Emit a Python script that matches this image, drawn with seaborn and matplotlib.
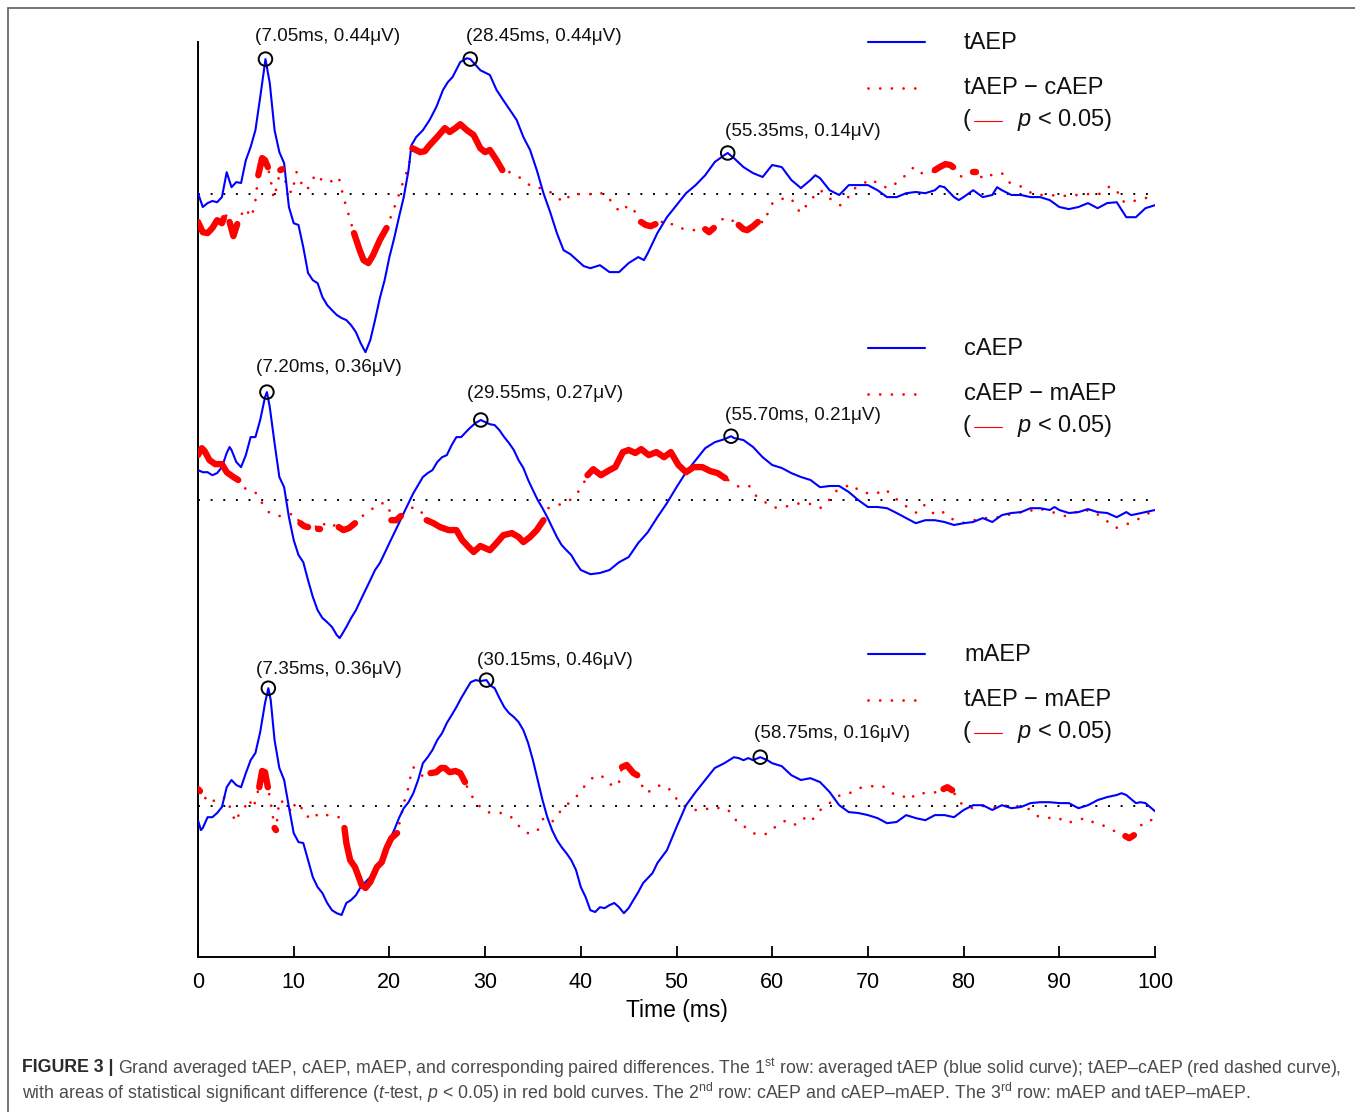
import numpy as np
import pandas as pd
import matplotlib
matplotlib.use("Agg")
import matplotlib.pyplot as plt
import seaborn as sns
from matplotlib.lines import Line2D
from matplotlib.patches import Rectangle

sns.set_theme(style="white")
plt.rcParams['font.family'] = ['Liberation Sans', 'DejaVu Sans']
plt.rcParams['mathtext.fontset'] = 'custom'
plt.rcParams['mathtext.rm'] = 'Liberation Sans'
plt.rcParams['mathtext.it'] = 'Liberation Sans:italic'
plt.rcParams['mathtext.bf'] = 'Liberation Sans:bold'

# ---------------- data (time in ms, amplitude in uV) ----------------
ROW_NAMES = ["tAEP", "cAEP", "mAEP"]
DIFF_NAMES = ["tAEP − cAEP", "cAEP − mAEP", "tAEP − mAEP"]

TAEP = [(0,0.003),(0.5,-0.043),(1,-0.030),(1.5,-0.023),(2,-0.027),(2.5,-0.010),(3,0.073),(3.5,0.023),(4,0.040),(4.5,0.037),(5,0.113),(5.5,0.157),(6,0.213),(6.5,0.323),(7.05,0.450),(7.5,0.370),(8,0.213),(8.5,0.140),(9,0.103),(9.5,-0.043),(10,-0.097),(10.5,-0.103),(11,-0.177),(11.5,-0.263),(12,-0.287),(12.5,-0.297),(13,-0.343),(13.5,-0.370),(14,-0.387),(14.5,-0.403),(15,-0.413),(15.5,-0.420),(16,-0.437),(16.5,-0.460),(17,-0.497),(17.5,-0.527),(18,-0.487),(18.5,-0.420),(19,-0.347),(19.5,-0.287),(20,-0.210),(20.5,-0.147),(21,-0.077),(21.5,-0.010),(22,0.080),(22.3,0.163),(22.8,0.190),(23.5,0.213),(24.2,0.247),(24.9,0.290),(25.6,0.347),(26.1,0.373),(26.6,0.390),(27.4,0.440),(28.1,0.453),(28.45,0.450),(29.5,0.413),(30.5,0.397),(31.2,0.347),(31.9,0.313),(32.6,0.280),(33.3,0.247),(34,0.190),(34.7,0.147),(35.4,0.080),(36.1,0.003),(36.8,-0.060),(37.5,-0.130),(38.2,-0.187),(38.9,-0.200),(39.6,-0.220),(40.3,-0.240),(41,-0.247),(42,-0.237),(43,-0.260),(44,-0.260),(45,-0.230),(46,-0.210),(46.6,-0.220),(47,-0.197),(48,-0.130),(49,-0.077),(50,-0.037),(51,0.003),(52,0.030),(53,0.063),(54,0.107),(55,0.130),(55.35,0.137),(56,0.120),(57,0.090),(58,0.070),(59,0.057),(60,0.097),(61,0.090),(62,0.047),(63,0.020),(64,0.047),(64.5,0.063),(65,0.053),(66,0.013),(67,-0.003),(67.5,0.013),(68,0.030),(69,0.030),(70,0.030),(71,0.013),(72,-0.010),(73,-0.010),(74,0.003),(75,0.007),(76,0.003),(77,0.013),(77.5,0.027),(78,0.023),(79,-0.010),(79.5,-0.020),(80,-0.010),(81,0.013),(82,-0.010),(83,-0.003),(83.5,0.023),(84,0.013),(85,-0.003),(86,-0.003),(87,-0.010),(88,-0.010),(89,-0.020),(90,-0.043),(91,-0.050),(92,-0.043),(93,-0.030),(94,-0.047),(95,-0.030),(96,-0.027),(97,-0.077),(98,-0.077),(99,-0.047),(100,-0.037)]

TC_DIFF = [(0,-0.093),(0.5,-0.127),(1,-0.130),(1.5,-0.113),(2,-0.087),(2.5,-0.097),(2.7,-0.080),(3.0,-0.070),(3.3,-0.093),(3.7,-0.140),(4.1,-0.100),(4.4,-0.077),(4.9,-0.047),(5.6,-0.077),(6.0,-0.020),(6.3,0.063),(6.7,0.120),(7.0,0.113),(7.3,0.090),(7.6,0.047),(7.9,-0.013),(8.2,0.020),(8.6,0.080),(8.8,0.083),(9.3,0.023),(9.8,0.003),(10.3,0.073),(10.8,0.037),(11.4,0.013),(11.9,0.047),(12.4,0.067),(13.1,0.040),(14.0,0.043),(14.7,0.057),(15.2,-0.010),(15.9,-0.087),(16.3,-0.130),(16.9,-0.187),(17.3,-0.220),(17.8,-0.230),(18.3,-0.203),(19.0,-0.153),(19.7,-0.113),(20.1,-0.080),(20.8,-0.020),(21.5,0.047),(22.0,0.090),(22.4,0.153),(23.2,0.140),(23.7,0.143),(24.2,0.163),(24.9,0.187),(25.8,0.220),(26.3,0.207),(26.9,0.220),(27.4,0.233),(28.1,0.213),(28.8,0.197),(29.5,0.153),(30.0,0.140),(30.5,0.147),(31.2,0.113),(31.8,0.080),(32.9,0.070),(34.0,0.047),(34.9,0.023),(35.8,0.020),(36.8,0.007),(38.2,-0.027),(39.0,0.000),(40.0,0.000),(40.7,-0.003),(41.7,0.007),(42.7,-0.003),(43.3,-0.030),(44.1,-0.060),(45.0,-0.037),(45.7,-0.060),(46.3,-0.093),(46.8,-0.103),(47.3,-0.107),(47.8,-0.100),(49.0,-0.087),(49.9,-0.110),(51.4,-0.120),(52.6,-0.120),(53.0,-0.117),(53.4,-0.127),(53.9,-0.113),(54.4,-0.093),(55.1,-0.077),(55.6,-0.083),(56.5,-0.103),(57.0,-0.117),(57.4,-0.120),(58.0,-0.107),(58.5,-0.093),(59.3,-0.093),(59.6,-0.053),(60.1,-0.027),(60.6,-0.020),(61.7,-0.010),(62.4,-0.030),(62.9,-0.063),(63.6,-0.037),(64.3,-0.010),(65.0,0.013),(65.5,0.003),(66.2,-0.020),(67.1,-0.037),(67.8,-0.020),(68.3,0.013),(69.2,0.030),(70.4,0.050),(71.3,0.027),(72.3,0.020),(73.2,0.043),(74.1,0.067),(74.8,0.090),(75.5,0.070),(76.5,0.070),(77.0,0.080),(77.5,0.090),(78.1,0.100),(78.6,0.097),(78.9,0.090),(79.8,0.057),(80.4,0.067),(81.0,0.073),(81.3,0.073),(82.1,0.050),(83.1,0.067),(84.0,0.070),(84.7,0.040),(85.4,0.030),(86.3,0.023),(87.2,0.000),(88.2,-0.003),(89.0,-0.003),(90.3,-0.007),(91.3,-0.003),(92.2,-0.003),(93.0,0.000),(94.0,-0.003),(94.8,0.013),(95.3,0.027),(95.7,0.017),(96.2,0.003),(96.4,-0.020),(97.1,-0.030),(98.1,-0.020),(99.0,-0.013),(100,-0.010)]
TC_SIG = [(0, 2.7), (3.3, 4.1), (6.3, 7.3), (8.6, 8.8), (16.3, 19.7), (22.4, 31.8), (46.3, 47.8), (53.0, 53.9), (56.5, 58.5), (77.0, 78.9), (81.0, 81.3)]

CAEP = [(0,0.100),(0.5,0.093),(1,0.093),(1.5,0.083),(2,0.090),(2.5,0.110),(3,0.157),(3.3,0.177),(3.5,0.167),(4,0.127),(4.5,0.110),(5,0.150),(5.5,0.210),(6,0.210),(6.5,0.267),(7,0.343),(7.2,0.360),(7.5,0.310),(8,0.190),(8.5,0.077),(9,0.043),(9.5,-0.057),(10,-0.133),(10.5,-0.183),(11,-0.207),(11.5,-0.267),(12,-0.323),(12.5,-0.367),(13,-0.393),(13.5,-0.407),(14,-0.423),(14.5,-0.450),(14.8,-0.460),(15,-0.450),(15.5,-0.423),(16,-0.393),(16.5,-0.367),(17,-0.333),(17.5,-0.300),(18,-0.267),(18.5,-0.233),(19,-0.210),(19.5,-0.177),(20,-0.143),(20.5,-0.110),(21,-0.077),(21.5,-0.043),(22,-0.010),(22.5,0.023),(23,0.050),(23.5,0.077),(24,0.090),(24.5,0.100),(25,0.127),(25.5,0.143),(26,0.150),(26.5,0.183),(27,0.210),(27.5,0.210),(28,0.227),(28.5,0.243),(29,0.257),(29.55,0.267),(30,0.260),(30.5,0.253),(31,0.250),(31.5,0.233),(32,0.210),(32.5,0.190),(33,0.167),(33.5,0.133),(34,0.107),(34.5,0.067),(35,0.033),(35.5,0.000),(36,-0.027),(36.5,-0.057),(37,-0.090),(37.5,-0.123),(38,-0.150),(38.5,-0.167),(39,-0.183),(39.5,-0.210),(40,-0.233),(41,-0.247),(42,-0.243),(43,-0.233),(44,-0.207),(45,-0.190),(46,-0.143),(47,-0.107),(48,-0.057),(49,-0.010),(50,0.043),(51,0.093),(52,0.133),(53,0.173),(54,0.193),(55,0.203),(55.7,0.213),(56,0.207),(57,0.200),(58,0.177),(59,0.143),(60,0.117),(61,0.107),(62,0.090),(63,0.077),(64,0.067),(65,0.043),(66,0.047),(67,0.047),(68,0.027),(69,0.000),(70,-0.023),(71,-0.023),(72,-0.027),(73,-0.043),(74,-0.060),(75,-0.077),(76,-0.067),(77,-0.067),(78,-0.073),(79,-0.083),(80,-0.077),(81,-0.073),(82,-0.060),(83,-0.073),(84,-0.050),(85,-0.043),(86,-0.040),(87,-0.027),(88,-0.027),(89,-0.033),(89.5,-0.023),(90,-0.033),(91,-0.043),(92,-0.040),(93,-0.030),(94,-0.040),(95,-0.043),(96,-0.057),(97,-0.040),(97.5,-0.050),(98,-0.047),(99,-0.040),(100,-0.033)]

CM_DIFF = [(0,0.150),(0.4,0.173),(0.7,0.163),(1.2,0.133),(1.8,0.120),(2.5,0.120),(3.0,0.093),(3.7,0.077),(4.2,0.067),(5.1,0.033),(6.1,0.023),(6.7,-0.010),(7.4,-0.040),(8.2,-0.053),(9.3,-0.053),(10.0,-0.043),(10.7,-0.077),(11.1,-0.087),(11.5,-0.090),(12.1,-0.077),(12.5,-0.097),(12.7,-0.097),(13.4,-0.073),(14.1,-0.083),(14.7,-0.090),(15.2,-0.100),(15.8,-0.093),(16.4,-0.077),(16.9,-0.060),(17.6,-0.043),(18.3,-0.027),(19.2,-0.010),(19.9,-0.017),(20.2,-0.067),(20.7,-0.067),(21.2,-0.053),(21.8,-0.040),(22.5,-0.023),(23.2,-0.033),(23.9,-0.067),(24.6,-0.077),(25.3,-0.090),(26.2,-0.100),(27.0,-0.100),(27.6,-0.133),(28.3,-0.157),(28.8,-0.173),(29.5,-0.153),(30.0,-0.160),(30.5,-0.167),(31.2,-0.143),(31.9,-0.117),(32.8,-0.110),(33.5,-0.123),(34.0,-0.140),(34.7,-0.123),(35.4,-0.100),(36.1,-0.067),(36.6,-0.027),(37.5,-0.017),(38.4,-0.010),(39.3,0.010),(40.1,0.043),(40.7,0.083),(41.3,0.103),(42.1,0.083),(43.0,0.100),(43.6,0.110),(44.4,0.160),(45.0,0.167),(45.7,0.157),(46.3,0.170),(47.1,0.150),(47.9,0.160),(48.7,0.143),(49.4,0.160),(50.2,0.117),(51.0,0.093),(51.8,0.110),(52.7,0.110),(53.5,0.097),(54.3,0.090),(55.1,0.073),(55.7,0.060),(56.6,0.043),(57.6,0.047),(58.2,0.017),(59.0,0.000),(59.9,-0.023),(60.9,-0.027),(61.9,-0.017),(63.0,-0.010),(64.0,-0.013),(65.0,-0.027),(65.8,-0.007),(66.5,0.027),(67.3,0.040),(68.3,0.053),(69.2,0.027),(70.0,0.023),(70.8,0.020),(71.8,0.037),(72.6,0.013),(73.5,-0.010),(74.3,-0.027),(75.1,-0.043),(75.9,-0.017),(76.8,-0.043),(77.6,-0.033),(78.4,-0.057),(79.5,-0.073),(80.3,-0.077),(81.1,-0.067),(81.9,-0.060),(82.7,-0.060),(83.6,-0.057),(84.6,-0.050),(85.6,-0.040),(86.6,-0.043),(87.5,-0.027),(88.5,-0.033),(89.6,-0.043),(90.6,-0.053),(91.4,-0.043),(92.7,-0.033),(93.7,-0.040),(94.5,-0.060),(95.3,-0.077),(95.9,-0.093),(96.9,-0.083),(97.9,-0.067),(98.8,-0.057),(100,-0.027)]
CM_SIG = [(0, 4.2), (10.7, 11.5), (12.5, 12.7), (14.7, 16.4), (20.2, 21.2), (23.9, 36.1), (40.7, 55.1)]

MAEP = [(0,-0.047),(0.3,-0.080),(0.5,-0.073),(1,-0.037),(1.5,-0.037),(2,-0.023),(2.5,-0.003),(3,0.063),(3.5,0.087),(4,0.070),(4.5,0.063),(5,0.110),(5.5,0.153),(6,0.177),(6.5,0.247),(7,0.343),(7.35,0.393),(7.6,0.353),(8,0.220),(8.5,0.127),(9,0.087),(9.5,-0.003),(10,-0.090),(10.5,-0.120),(11,-0.123),(11.5,-0.180),(12,-0.237),(12.5,-0.270),(13,-0.290),(13.5,-0.323),(14,-0.347),(14.5,-0.357),(15,-0.363),(15.5,-0.323),(16,-0.313),(16.5,-0.297),(17,-0.270),(17.5,-0.253),(18,-0.237),(18.5,-0.203),(19,-0.187),(19.5,-0.147),(20,-0.113),(20.5,-0.080),(21,-0.040),(21.5,-0.007),(22,0.013),(22.5,0.043),(23,0.087),(23.5,0.143),(24,0.163),(24.5,0.187),(25,0.220),(25.5,0.243),(26,0.277),(26.5,0.303),(27,0.330),(27.5,0.360),(28,0.387),(28.5,0.413),(29,0.420),(29.5,0.417),(30.15,0.420),(30.5,0.403),(31,0.393),(31.5,0.360),(32,0.330),(32.5,0.310),(33,0.297),(33.5,0.280),(34,0.253),(34.5,0.210),(35,0.153),(35.5,0.087),(36,0.020),(36.5,-0.037),(37,-0.080),(37.5,-0.113),(38,-0.137),(38.5,-0.157),(39,-0.180),(39.5,-0.213),(40,-0.270),(40.5,-0.303),(41,-0.347),(41.5,-0.353),(42,-0.337),(42.5,-0.340),(43,-0.330),(43.5,-0.323),(44,-0.337),(44.5,-0.357),(45,-0.340),(45.5,-0.313),(46,-0.287),(46.5,-0.257),(47,-0.240),(47.5,-0.223),(48,-0.190),(49,-0.147),(50,-0.070),(51,0.003),(52,0.047),(53,0.087),(54,0.127),(55,0.143),(56,0.163),(56.5,0.160),(57,0.153),(57.5,0.160),(58,0.153),(58.75,0.163),(59.5,0.153),(60,0.143),(61,0.133),(62,0.103),(63,0.087),(64,0.093),(65,0.080),(66,0.047),(67,0.003),(68,-0.020),(69,-0.023),(70,-0.030),(71,-0.040),(72,-0.057),(73,-0.053),(74,-0.030),(75,-0.040),(76,-0.047),(77,-0.030),(78,-0.030),(79,-0.037),(80,-0.013),(81,0.003),(82,0.003),(83,-0.013),(84,0.003),(85,-0.007),(86,-0.003),(87,0.010),(88,0.013),(89,0.013),(90,0.010),(91,0.010),(92,-0.007),(93,0.003),(94,0.020),(95,0.030),(96,0.037),(96.5,0.043),(97,0.037),(98,0.010),(98.5,0.013),(99,0.010),(100,-0.017)]

TM_DIFF = [(0,0.057),(0.2,0.050),(0.7,0.030),(1.1,0.010),(1.8,0.020),(2.3,0.017),(2.8,0.030),(3.3,0.000),(3.9,-0.053),(4.4,-0.020),(4.9,-0.003),(5.3,0.023),(5.8,-0.007),(6.1,0.033),(6.4,0.063),(6.7,0.117),(7.0,0.113),(7.3,0.063),(7.5,0.030),(7.8,-0.030),(8.0,-0.073),(8.15,-0.080),(8.5,0.020),(8.9,0.013),(9.4,0.000),(9.8,-0.023),(10.2,0.013),(10.7,0.000),(11.4,-0.037),(12.1,-0.020),(12.6,-0.037),(13.3,-0.030),(14.0,-0.030),(14.7,-0.037),(15.0,-0.053),(15.3,-0.073),(15.5,-0.123),(15.9,-0.180),(16.4,-0.203),(16.8,-0.237),(17.1,-0.263),(17.5,-0.273),(18.0,-0.253),(18.7,-0.203),(19.2,-0.187),(19.7,-0.140),(20.2,-0.107),(20.8,-0.090),(21.3,-0.023),(21.6,0.020),(22.0,0.063),(22.2,0.097),(22.5,0.130),(23.0,0.113),(23.6,0.097),(24.3,0.110),(24.9,0.113),(25.4,0.127),(25.8,0.127),(26.3,0.113),(26.9,0.117),(27.4,0.110),(27.9,0.080),(28.4,0.043),(29.3,0.003),(30.2,-0.020),(30.9,-0.023),(31.9,-0.023),(32.9,-0.040),(33.7,-0.073),(34.4,-0.090),(35.4,-0.087),(36.1,-0.040),(37.0,-0.053),(37.7,-0.023),(38.5,0.003),(39.5,0.030),(40.3,0.063),(41.5,0.103),(42.4,0.097),(43.4,0.063),(44.0,0.080),(44.3,0.130),(44.8,0.137),(45.5,0.110),(45.9,0.103),(46.3,0.073),(46.9,0.043),(47.9,0.067),(48.7,0.070),(49.6,0.047),(50.2,0.013),(51.0,-0.003),(52.0,-0.013),(52.9,-0.007),(53.7,-0.013),(54.7,-0.003),(55.7,-0.020),(56.4,-0.057),(57.2,-0.070),(58.0,-0.090),(58.8,-0.097),(59.7,-0.090),(60.5,-0.063),(61.5,-0.047),(62.5,-0.063),(63.4,-0.040),(64.0,-0.053),(64.6,-0.030),(65.2,-0.007),(66.0,0.010),(67.1,0.037),(68.1,0.043),(68.9,0.060),(70.0,0.063),(71.0,0.070),(71.8,0.063),(72.7,0.040),(73.5,0.037),(74.3,0.020),(75.1,0.043),(75.9,0.043),(76.8,0.043),(77.9,0.057),(78.3,0.063),(78.8,0.053),(79.7,0.010),(80.7,-0.007),(81.5,-0.003),(82.5,0.003),(83.6,-0.007),(84.6,0.003),(85.6,0.000),(86.7,-0.007),(87.7,-0.033),(88.7,-0.040),(89.8,-0.037),(90.8,-0.057),(91.8,-0.047),(92.8,-0.040),(93.7,-0.057),(94.5,-0.063),(95.5,-0.080),(96.4,-0.090),(96.9,-0.100),(97.3,-0.107),(97.8,-0.097),(98.8,-0.053),(99.6,-0.047),(100,-0.023)]
TM_SIG = [(0, 0.2), (6.4, 7.3), (8.0, 8.15), (15.3, 20.8), (24.3, 27.9), (44.3, 45.9), (77.9, 78.8), (96.9, 97.8)]

PEAK_T = [[7.05, 28.45, 55.35], [7.20, 29.55, 55.70], [7.35, 30.15, 58.75]]
PEAK_MARK_V = [[0.450, 0.450, 0.137], [0.360, 0.267, 0.213], [0.393, 0.420, 0.163]]
PEAK_LABEL_V = [[0.44, 0.44, 0.14], [0.36, 0.27, 0.21], [0.36, 0.46, 0.16]]

X_TICKS = [0, 10, 20, 30, 40, 50, 60, 70, 80, 90, 100]

# ---------------- layout ----------------
W, H = 1355, 1112
ROW_OFFSET = [0.0, -1.02, -2.04]
LABEL_OFFS = [[(-10, 23), (-4, 23), (-3, 22)],
              [(-11, 25), (-14, 26), (-6, 21)],
              [(-12, 19), (-10, 20), (-6, 24)]]
RED_DOTS = (0, (0.01, 4.2))

def fx(x):
    return x / W

def fy(y):
    return 1 - y / H

BLUE = "#0000ff"
RED = "#ff0000"

fig = plt.figure(figsize=(W / 100, H / 100), dpi=100)
ax = fig.add_axes([fx(198), 1 - 957 / H, 957 / W, 915 / H])

rows = [(TAEP, TC_DIFF, TC_SIG), (CAEP, CM_DIFF, CM_SIG), (MAEP, TM_DIFF, TM_SIG)]

for r, (blue, red, sig) in enumerate(rows):
    off = ROW_OFFSET[r]
    ax.axhline(off, color="black", lw=1.4, linestyle=(0, (1, 5.5)), zorder=1)
    bt = np.array([p[0] for p in blue]); bv = np.array([p[1] for p in blue]) + off
    rt = np.array([p[0] for p in red]); rv = np.array([p[1] for p in red]) + off
    sns.lineplot(x=bt, y=bv, color=BLUE, linewidth=1.5, estimator=None, sort=False,
                 ax=ax, zorder=3)
    sns.lineplot(x=rt, y=rv, color=RED, linewidth=2.0, estimator=None, sort=False,
                 linestyle=RED_DOTS, dash_capstyle="round", ax=ax, zorder=2)
    segs = []
    for k, (a, b) in enumerate(sig):
        m = (rt >= a - 1e-9) & (rt <= b + 1e-9)
        for ti, vi in zip(rt[m], rv[m]):
            segs.append((k, ti, vi))
    sdf = pd.DataFrame(segs, columns=["seg", "t", "v"])
    sns.lineplot(data=sdf, x="t", y="v", units="seg", estimator=None, color=RED,
                 linewidth=4.6, solid_capstyle="round", solid_joinstyle="round",
                 ax=ax, zorder=4, legend=False)
    pv = np.array(PEAK_MARK_V[r]) + off
    sns.scatterplot(x=PEAK_T[r], y=pv, marker="o", s=95, facecolor="none",
                    edgecolor="black", linewidth=1.4, ax=ax, zorder=6)
    for j in range(3):
        lab = f"({PEAK_T[r][j]:.2f}ms, {PEAK_LABEL_V[r][j]:.2f}μV)"
        dx, dy = LABEL_OFFS[r][j]
        ax.annotate(lab, xy=(PEAK_T[r][j], pv[j]), xytext=(dx, dy),
                    textcoords="offset pixels", ha="left", va="center",
                    fontsize=13.6, color="#111111")

    # legend block
    yo = 306 * r
    fig.add_artist(Line2D([fx(868), fx(925)], [fy(42 + yo)] * 2, color=BLUE, lw=1.5))
    fig.text(fx(964), fy(43 + yo), ROW_NAMES[r], fontsize=17, va="center", ha="left",
             color="#111111")
    fig.add_artist(Line2D([fx(868), fx(925)], [fy(88 + yo)] * 2, color=RED, lw=2.0,
                          linestyle=RED_DOTS, dash_capstyle="round"))
    fig.text(fx(964), fy(88 + yo), DIFF_NAMES[r], fontsize=17, va="center", ha="left",
             color="#111111")
    fig.text(fx(963), fy(120 + yo), "(", fontsize=17, va="center", ha="left",
             color="#111111")
    fig.add_artist(Line2D([fx(974), fx(1002)], [fy(121 + yo)] * 2, color=RED, lw=0.8))
    fig.text(fx(1017), fy(120 + yo), "$p$ < 0.05)", fontsize=17, va="center", ha="left",
             color="#111111")

ax.set_xlim(0, 100)
ax.set_ylim(-2.543, 0.507)
ax.set_xticks(X_TICKS)
ax.set_xticklabels([str(v) for v in X_TICKS])
ax.set_yticks([])
ax.tick_params(axis="x", direction="in", length=8, width=1.3, colors="black",
               labelsize=15.5, pad=11, bottom=True)
ax.set_xlabel("Time (ms)", fontsize=16.5, color="black", labelpad=4)
ax.set_ylabel("")
for s in ["top", "right"]:
    ax.spines[s].set_visible(False)
for s in ["left", "bottom"]:
    ax.spines[s].set_color("black")
    ax.spines[s].set_linewidth(1.4)
ax.set_facecolor("white")
ax.patch.set_alpha(0)

# figure frame
fig.add_artist(Rectangle((fx(8), -0.2), 1.3, fy(8) + 0.2, transform=fig.transFigure,
                         fill=False, edgecolor="#6a6a6a", lw=1.3))

# caption
CAP_BOLD = "FIGURE 3 |"
CAP_1 = ("Grand averaged tAEP, cAEP, mAEP, and corresponding paired differences. "
         "The 1$^{\\mathrm{st}}$ row: averaged tAEP (blue solid curve); tAEP–cAEP (red dashed curve),")
CAP_2 = ("with areas of statistical significant difference ($t$-test, $p$ < 0.05) in red bold curves. "
         "The 2$^{\\mathrm{nd}}$ row: cAEP and cAEP–mAEP. The 3$^{\\mathrm{rd}}$ row: mAEP and tAEP–mAEP.")

size = 12.0
tb = fig.text(fx(22), fy(1068), CAP_BOLD, fontsize=size, fontweight="bold",
              color="#2a2a2a", va="center", ha="left")
t1 = fig.text(fx(100), fy(1068), CAP_1, fontsize=size, color="#4a4a4a",
              va="center", ha="left")
t2 = fig.text(fx(22), fy(1093), CAP_2, fontsize=size, color="#4a4a4a",
              va="center", ha="left")
for _ in range(3):
    fig.canvas.draw()
    rend = fig.canvas.get_renderer()
    bb = tb.get_window_extent(rend)
    t1.set_x((bb.x1 + 5) / W)
    fig.canvas.draw()
    b1 = t1.get_window_extent(rend)
    total = b1.x1 - bb.x0
    size = size * (1340 - 22) / total
    for t in (tb, t1, t2):
        t.set_fontsize(size)
fig.canvas.draw()
bb = tb.get_window_extent(fig.canvas.get_renderer())
t1.set_x((bb.x1 + 5) / W)

fig.savefig("out.png", dpi=100)
